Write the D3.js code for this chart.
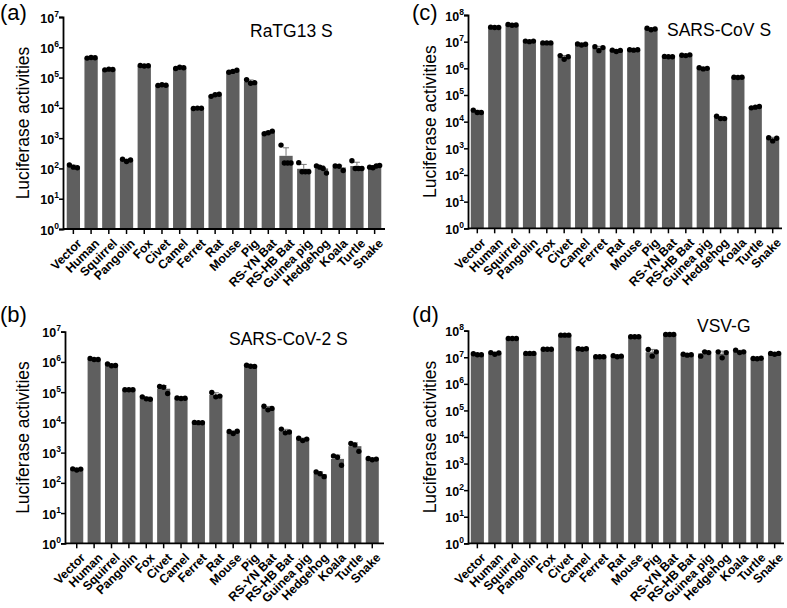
<!DOCTYPE html>
<html>
<head>
<meta charset="utf-8">
<script src="https://cdn.jsdelivr.net/npm/d3@7"></script>
<style>
  html, body { margin: 0; padding: 0; background: #fff; }
  svg { display: block; font-family: Arial, "Liberation Sans", sans-serif; }
</style>
</head>
<body>
<svg id="chart" width="787" height="608"></svg>
<script>
// ---------- data ----------
const categories = ["Vector","Human","Squirrel","Pangolin","Fox","Civet","Camel","Ferret","Rat","Mouse","Pig","RS-YN Bat","RS-HB Bat","Guinea pig","Hedgehog","Koala","Turtle","Snake"];

// replicate luciferase readings per category
const ratg13 = [
  [130,110,105],[4.4e5,4.6e5,4.5e5],[1.8e5,1.9e5,1.85e5],[200,170,190],[2.5e5,2.4e5,2.45e5],
  [5.5e4,5.8e4,5.6e4],[2.0e5,2.2e5,2.1e5],[9.5e3,9.8e3,9.7e3],[2.4e4,2.7e4,2.8e4],
  [1.5e5,1.6e5,1.75e5],[8.5e4,6.5e4,6.8e4],[1.4e3,1.5e3,1.7e3],[590,151,151,151],
  [155,78,78,78],[120,110,100,70],[120,118,85],[180,100,100,100],[110,105,120,125]
];
const sarsCoV2 = [
  [290,265,285],[1.3e6,1.2e6,1.2e6],[8.5e5,7.5e5,7.6e5],[1.2e5,1.2e5,1.2e5],[7e4,6e4,5.8e4],
  [1.55e5,1.45e5,9e4],[6.4e4,6.2e4,6.3e4],[1e4,9.8e3,9.7e3],[9.8e4,7e4,7.4e4],
  [5e3,4.3e3,5.1e3],[7.8e5,7.2e5,7.1e5],[3.4e4,2.6e4,2.9e4],[6e3,4.5e3,4.8e3],
  [3e3,2.5e3,2.8e3],[230,200,160],[780,700,380],[2e3,1.8e3,1.1e3],[640,580,610]
];
const sarsCoV = [
  [2.7e4,2.2e4,2.2e4],[3.5e7,3.4e7,3.4e7],[4.4e7,4.1e7,4.2e7],[1.05e7,1.0e7,1.05e7],[9e6,9e6,9e6],
  [3e6,2.2e6,2.7e6],[8.2e6,7.5e6,8e6],[6.5e6,4.6e6,6e6],[4.8e6,4.3e6,4.7e6],
  [5e6,4.8e6,5e6],[3.2e7,2.8e7,3e7],[2.8e6,2.7e6,2.7e6],[3.1e6,3.0e6,3.2e6],
  [1.05e6,0.95e6,1.0e6],[1.6e4,1.3e4,1.3e4],[4.6e5,4.5e5,4.6e5],[3.3e4,3.5e4,3.7e4],[2.5e3,1.9e3,2.4e3]
];
const vsvG = [
  [1.35e7,1.25e7,1.25e7],[1.5e7,1.3e7,1.45e7],[5.1e7,5.1e7,5.1e7],[1.4e7,1.4e7,1.4e7],[2e7,2e7,2e7],
  [6.8e7,6.8e7,6.8e7],[2.1e7,2e7,2.1e7],[1.05e7,1.05e7,1.05e7],[1.15e7,1.05e7,1.1e7],
  [5.9e7,5.9e7,5.9e7],[1.95e7,1.1e7,1.6e7],[7.2e7,7.2e7,7.2e7],[1.3e7,1.2e7,1.25e7],
  [1.1e7,1.6e7,1.5e7],[1.6e7,0.95e7,1.5e7],[1.85e7,1.5e7,1.6e7],[9e6,8.8e6,9.2e6],[1.4e7,1.3e7,1.4e7]
];

const panelLabels = ["(a)","(b)","(c)","(d)"];
const panelTitles = ["RaTG13 S","SARS-CoV-2 S","SARS-CoV S","VSV-G"];
const yMaxExp = [7,7,8,8];
const yLabel = "Luciferase activities";

// ---------- layout ----------
const panels = [
  {data: ratg13,   x0: 63,  x1: 385, yTop: 17,    yBot: 229,   po: 0.21, lab: [0, 20],   title: [250, 37],  ylx: 29},
  {data: sarsCoV2, x0: 65,  x1: 384, yTop: 331.7, yBot: 543.3, po: 0.30, lab: [0, 322],  title: [229, 345], ylx: 29},
  {data: sarsCoV,  x0: 468, x1: 782, yTop: 15,    yBot: 228.3, po: 0.16, lab: [412, 20], title: [667, 36],  ylx: 436},
  {data: vsvG,     x0: 468, x1: 784, yTop: 330.7, yBot: 543.3, po: 0.16, lab: [412, 322],title: [697, 332], ylx: 436}
];

const svg = d3.select("#chart");
const barColor = "#5f5f5f";

panels.forEach((p, i) => {
  const g = svg.append("g");
  const x = d3.scaleBand().domain(categories).range([p.x0, p.x1])
              .paddingInner(0.25).paddingOuter(p.po);
  const y = d3.scaleLog().domain([1, Math.pow(10, yMaxExp[i])]).range([p.yBot, p.yTop]);

  const rows = categories.map((c, k) => {
    const vals = p.data[k];
    const mean = d3.mean(vals);
    const sd = vals.length > 1 ? d3.deviation(vals) : 0;
    return {c, vals, mean, sd};
  });

  // bars
  g.selectAll("rect.bar").data(rows).join("rect")
    .attr("class", "bar")
    .attr("x", d => x(d.c))
    .attr("width", x.bandwidth())
    .attr("y", d => y(d.mean))
    .attr("height", d => p.yBot - y(d.mean))
    .attr("fill", barColor);

  // error bars (mean + SD)
  const eb = g.selectAll("g.err").data(rows.filter(d => d.sd > 0)).join("g").attr("class", "err");
  eb.append("line")
    .attr("x1", d => x(d.c) + x.bandwidth() / 2)
    .attr("x2", d => x(d.c) + x.bandwidth() / 2)
    .attr("y1", d => y(d.mean))
    .attr("y2", d => y(d.mean + d.sd))
    .attr("stroke", "#777").attr("stroke-width", 1);
  eb.append("line")
    .attr("x1", d => x(d.c) + x.bandwidth() / 2 - 3)
    .attr("x2", d => x(d.c) + x.bandwidth() / 2 + 3)
    .attr("y1", d => y(d.mean + d.sd))
    .attr("y2", d => y(d.mean + d.sd))
    .attr("stroke", "#777").attr("stroke-width", 1);

  // replicate dots
  rows.forEach(d => {
    const n = d.vals.length;
    const spread = n > 3 ? 10 : 8;
    d.vals.forEach((v, j) => {
      const off = n > 1 ? -spread / 2 + spread * j / (n - 1) : 0;
      g.append("circle")
        .attr("cx", x(d.c) + x.bandwidth() / 2 + off)
        .attr("cy", y(v))
        .attr("r", 2.7)
        .attr("fill", "#000");
    });
  });

  // y axis
  const decades = d3.range(0, yMaxExp[i] + 1).map(e => Math.pow(10, e));
  const yAxis = g.append("g").attr("transform", `translate(${p.x0},0)`)
    .call(d3.axisLeft(y).tickValues(decades).tickSize(4).tickFormat(""));
  yAxis.select(".domain").attr("stroke", "#000").attr("stroke-width", 1.8);
  yAxis.selectAll(".tick line").attr("stroke", "#000").attr("stroke-width", 1.5);
  yAxis.selectAll(".tick").each(function(v) {
    const t = d3.select(this).append("text")
      .attr("x", -4).attr("y", 5)
      .attr("text-anchor", "end")
      .attr("fill", "#000")
      .style("font-family", "Arial, 'Liberation Sans', sans-serif")
      .style("font-weight", "bold").style("font-size", "12.5px");
    t.append("tspan").text("10");
    t.append("tspan").attr("dy", -6).style("font-size", "8.5px").text(Math.round(Math.log10(v)));
  });

  // x axis
  const xAxis = g.append("g").attr("transform", `translate(0,${p.yBot})`)
    .call(d3.axisBottom(x).tickSize(5).tickSizeOuter(0).tickFormat(""));
  xAxis.select(".domain").attr("stroke", "#000").attr("stroke-width", 1.8)
    .attr("d", `M${p.x0},0H${p.x1}`);
  xAxis.selectAll(".tick line").attr("stroke", "#000").attr("stroke-width", 1.5);
  xAxis.selectAll(".tick").append("text")
    .attr("transform", "translate(3,9) rotate(-45)")
    .attr("text-anchor", "end")
    .attr("dy", "0.7em")
    .attr("fill", "#000")
    .style("font-family", "Arial, 'Liberation Sans', sans-serif")
    .style("font-weight", "bold").style("font-size", "12.3px")
    .text(d => d);

  // y label
  g.append("text")
    .attr("transform", `translate(${p.ylx},${(p.yTop + p.yBot) / 2}) rotate(-90)`)
    .attr("text-anchor", "middle")
    .style("font-size", "17.5px")
    .attr("fill", "#000")
    .text(yLabel);

  // title
  g.append("text")
    .attr("x", p.title[0]).attr("y", p.title[1])
    .style("font-size", "17.5px")
    .attr("fill", "#000")
    .text(panelTitles[i]);

  // panel label
  g.append("text")
    .attr("x", p.lab[0]).attr("y", p.lab[1])
    .style("font-size", "22px")
    .attr("fill", "#000")
    .text(panelLabels[i]);
});
</script>
</body>
</html>
